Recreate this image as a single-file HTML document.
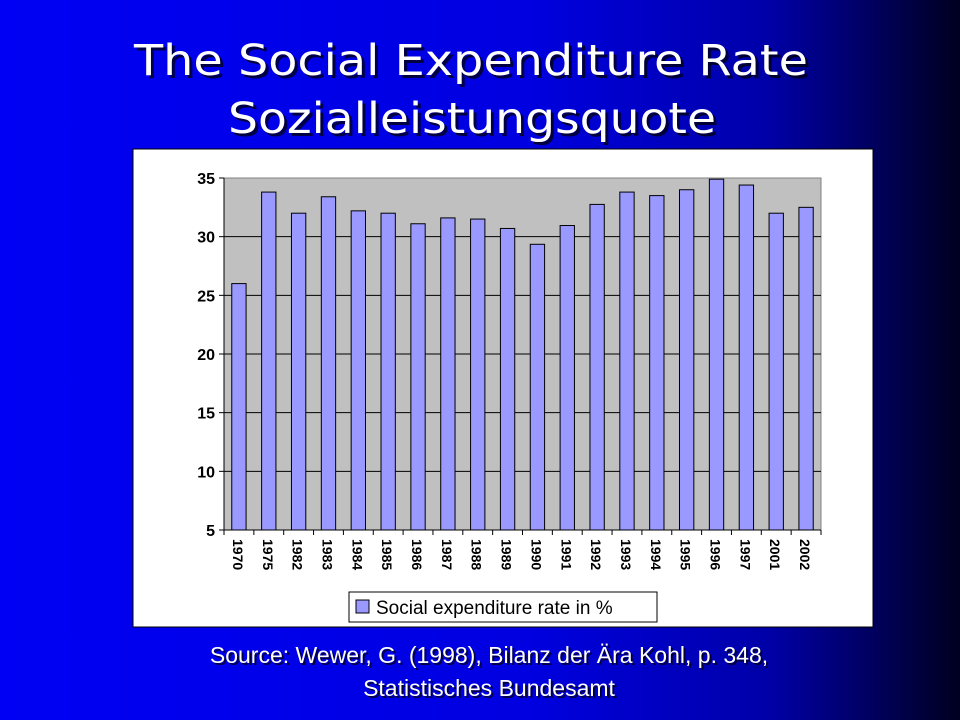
<!DOCTYPE html>
<html><head><meta charset="utf-8"><style>
html,body{margin:0;padding:0;width:960px;height:720px;overflow:hidden}
svg{display:block}
</style></head><body>
<svg id="chart" width="960" height="720" viewBox="0 0 960 720" xmlns="http://www.w3.org/2000/svg">
<defs>
<linearGradient id="bg" x1="0" y1="0" x2="1" y2="0">
<stop offset="0" stop-color="#0000f4"/><stop offset="0.55" stop-color="#0000e0"/><stop offset="0.8" stop-color="#0000a8"/><stop offset="1" stop-color="#000020"/>
</linearGradient>
</defs>
<rect x="0" y="0" width="960" height="720" fill="url(#bg)"/>
<g font-family="'DejaVu Sans',Verdana,sans-serif" font-size="43" fill="#fff" text-anchor="middle">
<text x="474" y="78" fill="#000" opacity="0.7" textLength="674" lengthAdjust="spacingAndGlyphs">The Social Expenditure Rate</text>
<text x="471" y="75" textLength="674" lengthAdjust="spacingAndGlyphs">The Social Expenditure Rate</text>
<text x="475" y="136" fill="#000" opacity="0.7" textLength="488" lengthAdjust="spacingAndGlyphs">Sozialleistungsquote</text>
<text x="472" y="133" textLength="488" lengthAdjust="spacingAndGlyphs">Sozialleistungsquote</text>
</g>
<rect x="133" y="149" width="740" height="478" fill="#fff" stroke="#000" stroke-width="1"/>
<rect x="224" y="178" width="597" height="352" fill="#c0c0c0" stroke="#808080" stroke-width="1"/>
<g id="grid"></g>
<g id="bars"></g>
<g id="axes"></g>
<g>
<rect x="349" y="592" width="308" height="30" fill="#fff" stroke="#000"/>
<rect x="356" y="600" width="13" height="13" fill="#9999ff" stroke="#000"/>
<text x="376" y="614" font-family="'Liberation Sans',Arial,sans-serif" font-size="19" fill="#000">Social expenditure rate in %</text>
</g>
<g font-family="'Liberation Sans',Arial,sans-serif" font-size="23" text-anchor="middle">
<text x="491" y="665" fill="#000" opacity="0.7">Source: Wewer, G. (1998), Bilanz der Ära Kohl, p. 348,</text>
<text x="489" y="663" fill="#fff">Source: Wewer, G. (1998), Bilanz der Ära Kohl, p. 348,</text>
<text x="491" y="698" fill="#000" opacity="0.7">Statistisches Bundesamt</text>
<text x="489" y="696" fill="#fff">Statistisches Bundesamt</text>
</g>
</svg>
<script>
const categories = ["1970","1975","1982","1983","1984","1985","1986","1987","1988","1989","1990","1991","1992","1993","1994","1995","1996","1997","2001","2002"];
const values = [26.0,33.8,32.0,33.4,32.2,32.0,31.1,31.6,31.5,30.7,29.35,30.95,32.75,33.8,33.5,34.0,34.9,34.4,32.0,32.5];
const yTicks = [5,10,15,20,25,30,35];
const NS = "http://www.w3.org/2000/svg";
const X0 = 224, X1 = 821, Y0 = 530, Y1 = 178, YMIN = 5, YMAX = 35;
function y(v){ return Y0 - (v - YMIN) / (YMAX - YMIN) * (Y0 - Y1); }
const step = (X1 - X0) / categories.length;
function xc(i){ return X0 + step * (i + 0.5); }
function mk(tag, attrs, parent){ const e = document.createElementNS(NS, tag); for (const k in attrs) e.setAttribute(k, attrs[k]); parent.appendChild(e); return e; }
const grid = document.getElementById('grid'), bars = document.getElementById('bars'), axes = document.getElementById('axes');
yTicks.forEach(t => {
  if (t !== YMIN && t !== YMAX) {
    const g = mk('line', {x1: X0, x2: X1, y1: y(t), y2: y(t), stroke: '#000', 'stroke-width': 1}, grid);
    
    
  }
  const tk = mk('line', {x1: X0 - 5, x2: X0, y1: y(t), y2: y(t), stroke: '#000'}, axes);
  
  
  const lb = mk('text', {x: X0 - 9, y: y(t) + 6, 'text-anchor': 'end', 'font-family': "'Liberation Sans',Arial,sans-serif", 'font-size': 16, 'font-weight': 'bold', fill: '#000'}, axes);
  lb.textContent = t;
  
  
});
const bw = step * 0.48;
values.forEach((v, i) => {
  const r = mk('rect', {x: xc(i) - bw / 2, y: y(v), width: bw, height: Y0 - y(v), fill: '#9999ff', stroke: '#000', 'stroke-width': 1}, bars);
  
  
});
const ax = mk('line', {x1: X0, x2: X0, y1: Y1, y2: Y0, stroke: '#000'}, axes);


const bx = mk('line', {x1: X0, x2: X1, y1: Y0, y2: Y0, stroke: '#000'}, axes);


for (let i = 0; i <= categories.length; i++) {
  const xt = mk('line', {x1: X0 + step * i, x2: X0 + step * i, y1: Y0, y2: Y0 + 5, stroke: '#000'}, axes);
  
  
}
categories.forEach((c, i) => {
  const t = mk('text', {x: 0, y: 0, transform: `translate(${xc(i) - 6},${Y0 + 9}) rotate(90)`, 'font-family': "'Liberation Sans',Arial,sans-serif", 'font-size': 14, 'font-weight': 'bold', fill: '#000'}, axes);
  t.textContent = c;
  
  
});
</script>
</body></html>
